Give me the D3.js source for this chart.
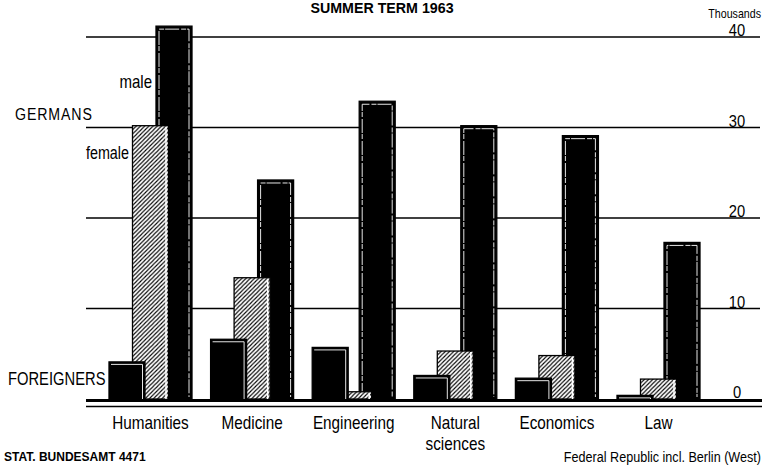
<!DOCTYPE html>
<meta charset="utf-8">
<style>

body {
  margin: 0;
  background: #fff;
}

svg {
  font-family: "Liberation Sans", Arial, sans-serif;
}

</style>
<body>
<script src="https://d3js.org/d3.v7.min.js"></script>
<script>

var categories = ["Humanities", "Medicine", "Engineering", "Natural sciences", "Economics", "Law"],
    foreigners = [4.1, 6.6, 5.7, 2.6, 2.3, 0.4],
    female = [30.2, 13.4, 0.8, 5.3, 4.8, 2.2],
    male = [41.2, 24.2, 32.9, 30.2, 29.1, 17.3],
    tickValues = [0, 10, 20, 30, 40];

</script>
<script>

var width = 766,
    height = 465,
    barWidth = 36,
    narrow = 0.82; // squeeze Liberation Sans into a condensed face

var svg = d3.select("body").append("svg")
    .attr("width", width)
    .attr("height", height);

// place a text at (x, y) and squeeze it horizontally, like the condensed type of the original
function label(parent, x, y, k) {
  return parent.append("text")
      .attr("transform", "translate(" + x + "," + y + ") scale(" + (k || narrow) + ",1)");
}

svg.append("defs").append("pattern")
    .attr("id", "hatch")
    .attr("patternUnits", "userSpaceOnUse")
    .attr("width", 4.2)
    .attr("height", 4.2)
  .append("path")
    .attr("d", "M-1,1L1,-1M0,4.2L4.2,0M3.2,5.2L5.2,3.2")
    .attr("stroke", "#000")
    .attr("stroke-width", 1.1);

var x = d3.scalePoint()
    .domain(categories)
    .range([150.5, 658.5]);

var offset = d3.scalePoint()
    .domain(["foreigners", "female", "male"])
    .range([-23.5, 23.5]);

var y = d3.scaleLinear()
    .domain([0, 40])
    .range([399, 37]);

// grid
svg.append("g")
  .selectAll("line")
  .data(tickValues.filter(function(d) { return d > 0; }))
  .enter().append("line")
    .attr("x1", 86)
    .attr("x2", 760)
    .attr("y1", function(d) { return y(d); })
    .attr("y2", function(d) { return y(d); })
    .attr("stroke", "#000")
    .attr("stroke-width", 1.3);

var tickLabels = svg.append("g")
    .attr("font-size", 16)
    .attr("text-anchor", "middle");

tickValues.forEach(function(d) {
  label(tickLabels, 737, y(d) - 1, 0.92).text(d);
});

label(svg, 761, 18)
    .attr("text-anchor", "end")
    .attr("font-size", 13)
    .text("Thousands");

// bars, back to front
var series = [
  {key: "male", values: male},
  {key: "female", values: female},
  {key: "foreigners", values: foreigners}
];

series.forEach(function(s) {
  var bars = svg.append("g")
    .selectAll("g")
    .data(categories.map(function(c, i) { return {cat: c, v: s.values[i]}; }))
    .enter().append("g")
      .attr("transform", function(d) {
        return "translate(" + (x(d.cat) + offset(s.key) - barWidth / 2) + "," + y(d.v) + ")";
      });

  if (s.key === "female") {
    bars.append("rect")
        .attr("width", barWidth)
        .attr("height", function(d) { return y(0) - y(d.v); })
        .attr("fill", "#fff");
  }

  bars.append("rect")
      .attr("width", barWidth)
      .attr("height", function(d) { return y(0) - y(d.v); })
      .attr("fill", s.key === "female" ? "url(#hatch)" : "#000")
      .attr("stroke", "#000")
      .attr("stroke-width", 1.3);

  if (s.key === "female") {
    bars.append("line")
        .attr("x1", barWidth - 2.5)
        .attr("x2", barWidth - 2.5)
        .attr("y1", 1)
        .attr("y2", function(d) { return y(0) - y(d.v); })
        .attr("stroke", "#fff")
        .attr("stroke-width", 1.5);
  } else {
    bars.append("path")
        .attr("d", function(d) {
          var h = y(0) - y(d.v);
          return s.key === "male"
              ? "M3," + (h - 2) + "V3H" + (barWidth - 3) + "V" + (h - 2)
              : "M2,2.5H" + (barWidth - 2.5) + "V" + h;
        })
        .attr("fill", "none")
        .attr("stroke", "#fff")
        .attr("stroke-width", 0.9)
        .attr("stroke-dasharray", s.key === "male" ? "14,2,5,1" : null);
  }
});

// baseline, doubled
svg.append("line")
    .attr("x1", 86)
    .attr("x2", 762)
    .attr("y1", y(0) + 1.5)
    .attr("y2", y(0) + 1.5)
    .attr("stroke", "#000")
    .attr("stroke-width", 3);

svg.append("line")
    .attr("x1", 86)
    .attr("x2", 762)
    .attr("y1", y(0) + 7.5)
    .attr("y2", y(0) + 7.5)
    .attr("stroke", "#000")
    .attr("stroke-width", 1.5);

// category labels, long names wrap onto a second line
var catLabels = svg.append("g")
    .attr("font-size", 18)
    .attr("text-anchor", "middle");

categories.forEach(function(c) {
  label(catLabels, x(c), 429, 0.85)
    .selectAll("tspan")
    .data(c.split(" "))
    .enter().append("tspan")
      .attr("x", 0)
      .attr("dy", function(d, i) { return i ? 21 : 0; })
      .text(function(d) { return d; });
});

// left labels
label(svg, 15, 120, 0.86)
    .attr("font-size", 16.5)
    .attr("letter-spacing", 1)
    .text("GERMANS");

label(svg, 152, 88, 0.86)
    .attr("text-anchor", "end")
    .attr("font-size", 17.5)
    .text("male");

label(svg, 129, 159)
    .attr("text-anchor", "end")
    .attr("font-size", 17.5)
    .text("female");

label(svg, 8, 385)
    .attr("font-size", 18)
    .text("FOREIGNERS");

// title and notes
label(svg, 382, 13, 0.95)
    .attr("text-anchor", "middle")
    .attr("font-weight", "bold")
    .attr("font-size", 15)
    .text("SUMMER TERM 1963");

svg.append("text")
    .attr("x", 4)
    .attr("y", 461)
    .attr("font-weight", "bold")
    .attr("font-size", 12)
    .text("STAT. BUNDESAMT 4471");

label(svg, 761, 462, 0.84)
    .attr("text-anchor", "end")
    .attr("font-size", 15)
    .text("Federal Republic incl. Berlin (West)");

</script>
